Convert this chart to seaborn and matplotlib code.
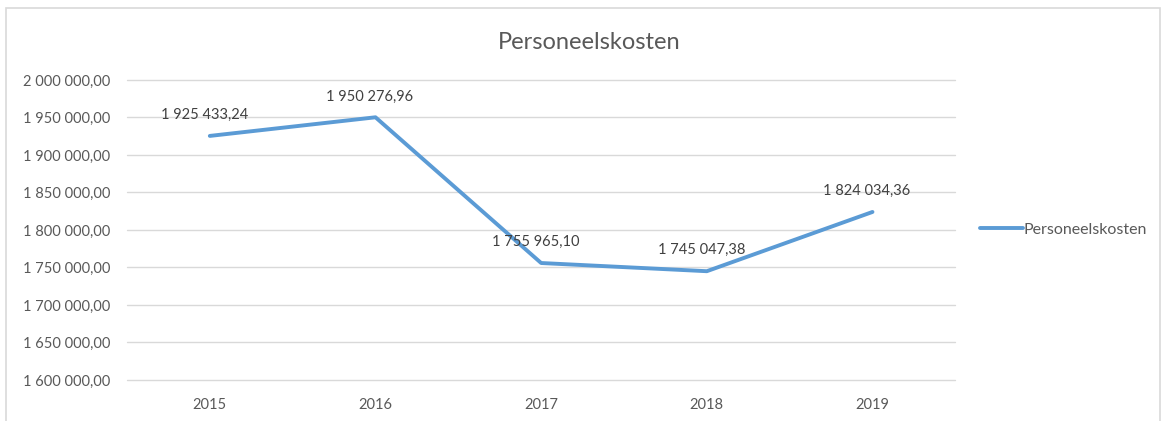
import matplotlib
matplotlib.use("Agg")
import matplotlib.pyplot as plt
import matplotlib.patches as mpatches
from matplotlib.ticker import FuncFormatter
import seaborn as sb
import pandas as pd

years = ["2015", "2016", "2017", "2018", "2019"]
kosten = [1925433.24, 1950276.96, 1755965.10, 1745047.38, 1824034.36]
series_name = "Personeelskosten"


def nl_fmt(v, pos=None):
    s = f"{v:,.2f}"
    return s.replace(",", " ").replace(".", ",")


sb.set_style("white")
plt.rcParams["font.family"] = ["Lato", "DejaVu Sans"]

df = pd.DataFrame({"jaar": years, "kosten": kosten})

fig = plt.figure(figsize=(11.65, 4.21), dpi=100)
ax = fig.add_axes([0.109, 0.0974, 0.711, 0.7126])

# chart frame
fig.patches.append(mpatches.Rectangle((6 / 1165, -0.05), 1154 / 1165, 1 - 8 / 421 + 0.05,
                                      transform=fig.transFigure, fill=False,
                                      edgecolor="#d9d9d9", linewidth=1.2))

sb.lineplot(data=df, x="jaar", y="kosten", color="#5b9bd5", linewidth=2.8,
            label=series_name, ax=ax, sort=False, zorder=3)

ax.set_xlim(-0.5, 4.5)
ax.set_ylim(1600000, 2000000)
ax.set_yticks(range(1600000, 2000001, 50000))
ax.yaxis.set_major_formatter(FuncFormatter(nl_fmt))
ax.grid(axis="y", color="#d9d9d9", linewidth=1)
ax.grid(axis="x", visible=False)
for gl in ax.get_ygridlines():
    gl.set_clip_on(False)
for s in ax.spines.values():
    s.set_visible(False)
ax.tick_params(axis="both", length=0, labelsize=10.5, colors="#595959")
ax.tick_params(axis="x", pad=13)
ax.tick_params(axis="y", pad=12)
ax.set_xlabel("")
ax.set_ylabel("")

for i, v in enumerate(kosten):
    ax.annotate(nl_fmt(v), (i, v), xytext=(-4, 10), textcoords="offset points",
                ha="center", va="bottom", fontsize=10.5, color="#404040")

fig.text(0.5056, 0.9, "Personeelskosten", ha="center", va="center",
         fontsize=17, color="#595959")

leg = ax.legend(loc="center left", bbox_to_anchor=(1.012, 0.5), frameon=False,
                handlelength=2.7, handletextpad=0.05, fontsize=11.5)
for t in leg.get_texts():
    t.set_color("#595959")

fig.savefig("out.png", dpi=100)
